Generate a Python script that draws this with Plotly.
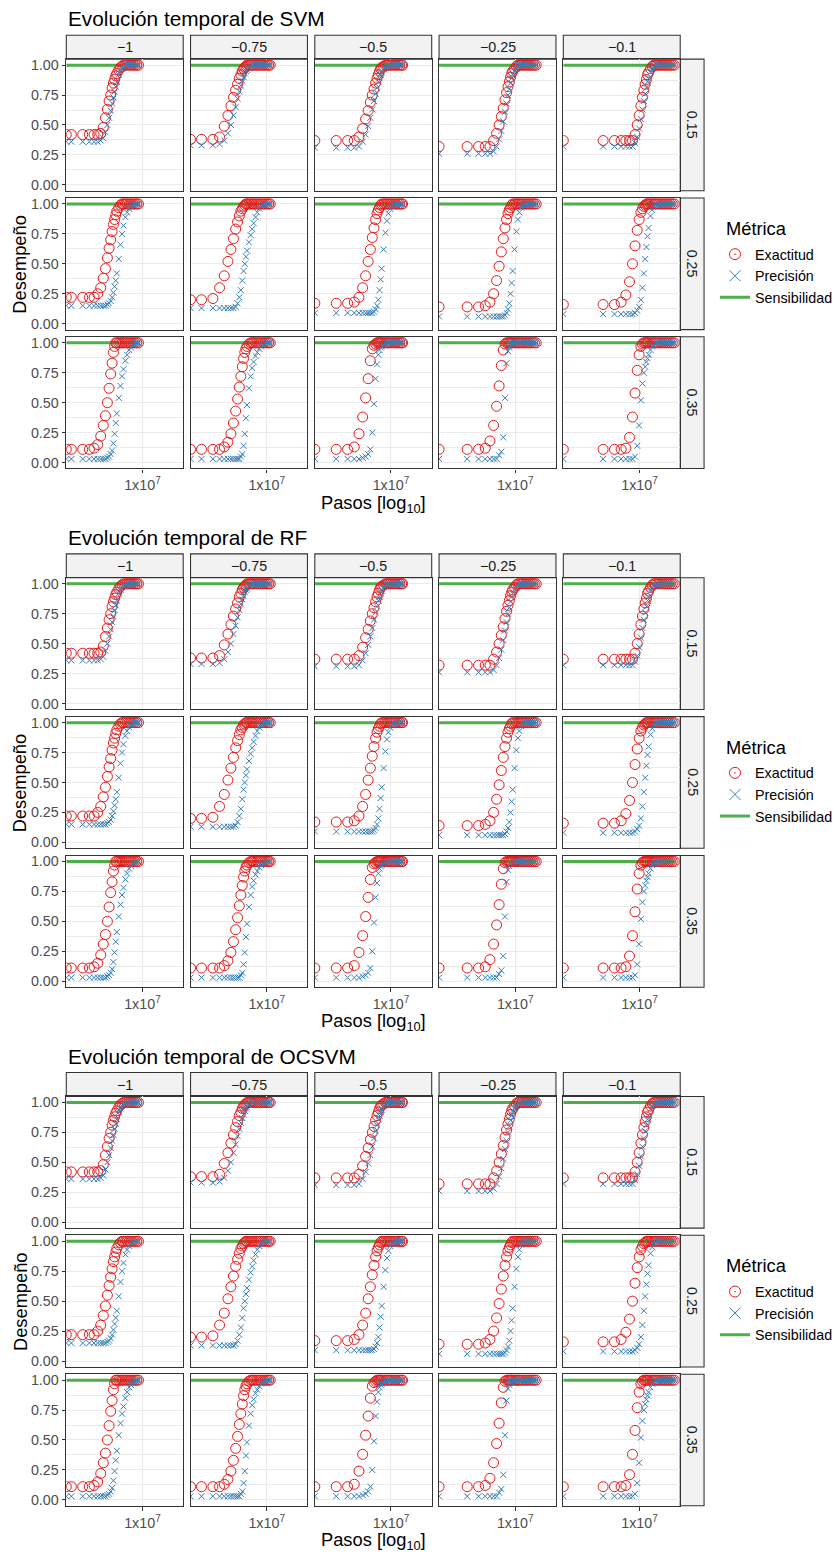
import plotly.graph_objects as go

W, H = 838, 1557
models = ["SVM", "RF", "OCSVM"]
col_labels = ["\u22121", "\u22120.75", "\u22120.5", "\u22120.25", "\u22120.1"]
row_labels = ["0.15", "0.25", "0.35"]
metric_names = ["Exactitud", "Precisión", "Sensibilidad"]

# training steps (thousands) at which each column was evaluated
steps_c1 = [0, 131, 262, 393, 524, 655, 786, 917, 1048, 1179, 1310, 1441, 1572, 1703, 1834, 1965, 2096,
            2358, 2620, 2882, 3144, 3537, 3930, 4454, 4978, 5633, 6288, 7074, 7860]
steps_c2 = [0, 188, 376, 564, 752, 940, 1128, 1316, 1504, 1692, 1880, 2068, 2256, 2444, 2632, 2820, 3008,
            3384, 3760, 4136, 4512, 5076, 5640, 6392, 7144, 8084, 9024, 10152, 11280, 12408]
steps_c3 = [0, 356, 712, 1068, 1424, 1780, 2136, 2492, 2848, 3204, 3560, 3916, 4272, 4628, 4984, 5340, 5696,
            6408, 7120, 7832, 8544, 9612, 10680, 12104, 13528, 15308, 17088, 19224, 20292]
steps_c4 = [0, 536, 1072, 1608, 2144, 2680, 3216, 3752, 4288, 4824, 5360, 5896, 6432, 6968, 7504, 8040, 8576,
            9648, 10720, 11792, 12864, 14472, 16080, 18224, 20368, 23048, 25728, 28944, 32160, 35912]
steps_c5 = [0, 1090, 2180, 3270, 4360, 5450, 6540, 7630, 8720, 9810, 10900, 11990, 13080, 14170, 15260, 16350, 17440,
            19620, 21800, 23980, 26160, 29430, 32700, 37060, 41420, 46870, 52320, 58860, 65400, 74120, 83930]
steps = [steps_c1, steps_c2, steps_c3, steps_c4, steps_c5]

# Exactitud (accuracy) per row, per column
acc_r1 = [
    [0.42,0.42,0.42,0.42,0.42,0.42,0.43,0.48,0.56,0.63,0.70,0.75,0.81,0.85,0.88,0.91,0.93,0.96,0.98,0.99,1,1,1,1,1,1,1,1,1],
    [0.38,0.38,0.38,0.40,0.49,0.58,0.66,0.73,0.79,0.84,0.89,0.92,0.95,0.97,0.98,0.99,1.0,1,1,1,1,1,1,1,1,1,1,1,1,1],
    [0.37,0.37,0.37,0.37,0.40,0.47,0.55,0.62,0.69,0.75,0.80,0.85,0.89,0.92,0.95,0.97,0.98,0.99,1,1,1,1,1,1,1,1,1,1,1],
    [0.32,0.32,0.32,0.32,0.32,0.37,0.43,0.50,0.57,0.64,0.71,0.77,0.82,0.86,0.90,0.93,0.95,0.97,0.99,1,1,1,1,1,1,1,1,1,1,1],
    [0.37,0.37,0.37,0.37,0.37,0.37,0.37,0.42,0.50,0.58,0.66,0.73,0.79,0.84,0.88,0.92,0.94,0.97,0.99,1,1,1,1,1,1,1,1,1,1,1,1],
]
acc_r2 = [
    [0.22,0.22,0.22,0.22,0.22,0.25,0.30,0.38,0.46,0.55,0.63,0.70,0.77,0.83,0.87,0.91,0.94,0.97,0.99,1,1,1,1,1,1,1,1,1,1],
    [0.20,0.20,0.21,0.30,0.40,0.52,0.62,0.71,0.79,0.85,0.90,0.94,0.96,0.98,0.99,1,1,1,1,1,1,1,1,1,1,1,1,1,1,1],
    [0.17,0.17,0.17,0.18,0.22,0.30,0.40,0.52,0.62,0.72,0.80,0.87,0.92,0.95,0.97,0.99,1,1,1,1,1,1,1,1,1,1,1,1,1],
    [0.14,0.14,0.14,0.15,0.18,0.25,0.36,0.48,0.60,0.71,0.80,0.87,0.92,0.95,0.97,0.99,1,1,1,1,1,1,1,1,1,1,1,1,1,1],
    [0.16,0.16,0.16,0.18,0.24,0.35,0.50,0.65,0.78,0.87,0.93,0.96,0.98,0.99,1,1,1,1,1,1,1,1,1,1,1,1,1,1,1,1,1],
]
acc_r3 = [
    [0.11,0.11,0.11,0.11,0.12,0.15,0.22,0.31,0.39,0.50,0.62,0.74,0.83,0.92,0.97,1,1,1,1,1,1,1,1,1,1,1,1,1,1],
    [0.11,0.11,0.11,0.11,0.13,0.17,0.24,0.33,0.43,0.53,0.63,0.72,0.80,0.87,0.92,0.95,0.97,0.99,1,1,1,1,1,1,1,1,1,1,1,1],
    [0.11,0.11,0.11,0.13,0.24,0.38,0.54,0.70,0.85,0.95,0.98,0.99,1,1,1,1,1,1,1,1,1,1,1,1,1,1,1,1,1],
    [0.11,0.11,0.11,0.12,0.18,0.31,0.47,0.64,0.81,0.94,0.99,1,1,1,1,1,1,1,1,1,1,1,1,1,1,1,1,1,1,1],
    [0.11,0.11,0.11,0.11,0.12,0.21,0.38,0.58,0.77,0.90,0.97,0.99,1,1,1,1,1,1,1,1,1,1,1,1,1,1,1,1,1,1,1],
]
# Precisión per row, per column
prec_r1 = [
    [0.36,0.36,0.36,0.36,0.36,0.36,0.37,0.39,0.44,0.50,0.56,0.62,0.68,0.73,0.78,0.82,0.86,0.92,0.95,0.97,0.98,0.99,1,1,1,1,1,1,1],
    [0.33,0.33,0.33,0.34,0.37,0.43,0.50,0.58,0.65,0.72,0.78,0.83,0.87,0.90,0.93,0.95,0.96,0.98,0.99,1,1,1,1,1,1,1,1,1,1,1],
    [0.31,0.31,0.31,0.31,0.32,0.36,0.42,0.49,0.56,0.63,0.70,0.76,0.81,0.86,0.89,0.92,0.94,0.97,0.98,0.99,1,1,1,1,1,1,1,1,1],
    [0.26,0.26,0.26,0.26,0.26,0.28,0.32,0.38,0.45,0.53,0.61,0.68,0.75,0.80,0.85,0.89,0.92,0.95,0.97,0.99,1,1,1,1,1,1,1,1,1,1],
    [0.32,0.32,0.32,0.32,0.32,0.32,0.32,0.35,0.40,0.47,0.55,0.63,0.70,0.76,0.81,0.86,0.89,0.94,0.97,0.98,0.99,1,1,1,1,1,1,1,1,1,1],
]
prec_r2 = [
    [0.15,0.15,0.15,0.15,0.15,0.15,0.15,0.15,0.15,0.16,0.17,0.19,0.22,0.26,0.31,0.36,0.42,0.54,0.66,0.75,0.82,0.89,0.93,0.96,0.98,0.99,1,1,1],
    [0.13,0.13,0.13,0.13,0.13,0.13,0.13,0.13,0.14,0.17,0.22,0.28,0.36,0.44,0.50,0.56,0.61,0.68,0.74,0.79,0.84,0.89,0.93,0.96,0.98,0.99,1,1,1,1],
    [0.09,0.09,0.09,0.09,0.09,0.09,0.09,0.09,0.09,0.09,0.10,0.12,0.15,0.20,0.28,0.37,0.46,0.62,0.76,0.86,0.92,0.96,0.98,0.99,1,1,1,1,1],
    [0.06,0.06,0.06,0.06,0.06,0.06,0.06,0.06,0.06,0.06,0.07,0.09,0.12,0.17,0.25,0.34,0.44,0.62,0.77,0.87,0.93,0.97,0.99,1,1,1,1,1,1,1],
    [0.08,0.08,0.08,0.08,0.08,0.08,0.08,0.09,0.11,0.14,0.20,0.30,0.42,0.54,0.64,0.73,0.80,0.90,0.95,0.98,0.99,1,1,1,1,1,1,1,1,1,1],
]
prec_r3 = [
    [0.03,0.03,0.03,0.03,0.03,0.03,0.03,0.03,0.03,0.04,0.05,0.07,0.10,0.16,0.24,0.33,0.41,0.54,0.64,0.72,0.78,0.85,0.90,0.94,0.96,0.98,0.99,1,1],
    [0.03,0.03,0.03,0.03,0.03,0.03,0.03,0.03,0.03,0.03,0.03,0.05,0.07,0.14,0.24,0.37,0.48,0.62,0.72,0.79,0.84,0.89,0.92,0.95,0.97,0.98,0.99,1,1,1],
    [0.03,0.03,0.03,0.03,0.03,0.04,0.05,0.07,0.11,0.25,0.49,0.70,0.82,0.90,0.94,0.96,0.97,0.98,0.99,1,1,1,1,1,1,1,1,1,1],
    [0.03,0.03,0.03,0.03,0.03,0.03,0.03,0.06,0.09,0.21,0.54,0.83,0.93,0.96,0.98,0.99,1,1,1,1,1,1,1,1,1,1,1,1,1,1],
    [0.03,0.03,0.03,0.03,0.03,0.03,0.03,0.05,0.14,0.31,0.52,0.66,0.75,0.80,0.84,0.87,0.90,0.94,0.97,0.98,0.99,1,1,1,1,1,1,1,1,1,1],
]
acc = [acc_r1, acc_r2, acc_r3]
prec = [prec_r1, prec_r2, prec_r3]
# Sensibilidad: first and last evaluation of every panel
sens_first_last = [1.0, 1.0]

COL_ACC, COL_PREC, COL_SENS = "#E41A1C", "#377EB8", "#4DAF4A"
FONT = "Liberation Sans, Arial, Helvetica, sans-serif"
FS_TICK, FS_AXT, FS_TITLE = 14.3, 18.3, 20.8
XR = [4.984, 8.079]          # log10 range of the x axes
YR = [-0.05, 1.05]
X_LEFT = 10 ** XR[0]          # step 0 (log = -Inf) drawn at the panel edge

PANEL_L, PANEL_W, COL_STEP = 66.7, 117.6, 125.0
PANEL_T, PANEL_H, ROW_STEP = 57.3, 132.0, 139.2
BLOCK = 520.0
STRIP = 24.0


def fx(p):
    return p / W


def fy(p):
    return 1 - p / H


fig = go.Figure()
layout = {}
shapes = []
annots = []
n = 0
for b, model in enumerate(models):
    oy = BLOCK * b
    leg = "legend" if b == 0 else f"legend{b + 1}"
    for r in range(3):
        for c in range(5):
            n += 1
            sfx = "" if n == 1 else str(n)
            x0 = PANEL_L + COL_STEP * c
            x1 = x0 + PANEL_W
            yt = PANEL_T + oy + ROW_STEP * r
            yb = yt + PANEL_H
            xs = [s * 1000 if s > 0 else X_LEFT for s in steps[c]]
            ya = acc[r][c]
            yp = prec[r][c]
            fig.add_trace(go.Scatter(
                x=[xs[0], xs[-1]], y=sens_first_last, mode="lines",
                line=dict(color=COL_SENS, width=3), xaxis="x" + sfx, yaxis="y" + sfx,
                showlegend=False, hoverinfo="skip"))
            m = min(len(xs), len(ya))
            fig.add_trace(go.Scatter(
                x=xs[:m], y=ya[:m], mode="markers",
                marker=dict(symbol="circle-open", size=10, color=COL_ACC, line=dict(width=1, color=COL_ACC)),
                xaxis="x" + sfx, yaxis="y" + sfx, showlegend=False, hoverinfo="skip"))
            m = min(len(xs), len(yp))
            fig.add_trace(go.Scatter(
                x=xs[:m], y=yp[:m], mode="markers",
                marker=dict(symbol="x-thin-open", size=6, color=COL_PREC, line=dict(width=1, color=COL_PREC)),
                xaxis="x" + sfx, yaxis="y" + sfx, showlegend=False, hoverinfo="skip"))

            layout["xaxis" + sfx] = dict(
                domain=[fx(x0), fx(x1)], anchor="y" + sfx, type="log", range=XR,
                tickvals=[1e7], ticktext=["1x10<sup>7</sup>"],
                showticklabels=(r == 2), ticks="outside" if r == 2 else "",
                ticklen=3.7, tickwidth=1.07, tickcolor="#333333",
                tickfont=dict(size=FS_TICK, color="#4D4D4D", family=FONT),
                showgrid=True, gridcolor="#EBEBEB", gridwidth=1.07, zeroline=False,
                showline=True, mirror=True, linecolor="#333333", linewidth=1.07, fixedrange=True)
            layout["yaxis" + sfx] = dict(
                domain=[fy(yb), fy(yt)], anchor="x" + sfx, range=YR,
                tickvals=[0, 0.25, 0.5, 0.75, 1.0], ticktext=["0.00", "0.25", "0.50", "0.75", "1.00"],
                showticklabels=(c == 0), ticks="outside" if c == 0 else "",
                ticklen=3.7, tickwidth=1.07, tickcolor="#333333",
                tickfont=dict(size=FS_TICK, color="#4D4D4D", family=FONT),
                showgrid=True, gridcolor="#EBEBEB", gridwidth=1.07, zeroline=False,
                minor=dict(tickmode="linear", tick0=0.125, dtick=0.25, showgrid=True,
                           gridcolor="#EBEBEB", gridwidth=0.53, ticks=""),
                showline=True, mirror=True, linecolor="#333333", linewidth=1.07, fixedrange=True)

            if r == 0:
                st = PANEL_T + oy - STRIP
                shapes.append(dict(type="rect", xref="paper", yref="paper",
                                   x0=fx(x0), x1=fx(x1), y0=fy(PANEL_T + oy), y1=fy(st),
                                   fillcolor="#F2F2F2", line=dict(color="#333333", width=1.07), layer="below"))
                annots.append(dict(x=fx((x0 + x1) / 2), y=fy(st + STRIP / 2), xref="paper", yref="paper",
                                   text=col_labels[c], showarrow=False, xanchor="center", yanchor="middle",
                                   font=dict(size=FS_TICK, color="#1A1A1A", family=FONT)))
            if c == 4:
                shapes.append(dict(type="rect", xref="paper", yref="paper",
                                   x0=fx(x1), x1=fx(x1 + STRIP), y0=fy(yb), y1=fy(yt),
                                   fillcolor="#F2F2F2", line=dict(color="#333333", width=1.07), layer="below"))
                annots.append(dict(x=fx(x1 + STRIP / 2), y=fy((yt + yb) / 2), xref="paper", yref="paper",
                                   text=row_labels[r], showarrow=False, textangle=90,
                                   xanchor="center", yanchor="middle",
                                   font=dict(size=FS_TICK, color="#1A1A1A", family=FONT)))

    # legend entries for this block
    fig.add_trace(go.Scatter(x=[None], y=[None], mode="markers", name=metric_names[0], legend=leg,
                             marker=dict(symbol="circle-open-dot", size=11, color=COL_ACC,
                                         line=dict(width=1, color=COL_ACC))))
    fig.add_trace(go.Scatter(x=[None], y=[None], mode="markers", name=metric_names[1], legend=leg,
                             marker=dict(symbol="x-thin-open", size=11, color=COL_PREC,
                                         line=dict(width=1, color=COL_PREC))))
    fig.add_trace(go.Scatter(x=[None], y=[None], mode="lines", name=metric_names[2], legend=leg,
                             line=dict(color=COL_SENS, width=3)))
    layout[leg] = dict(x=fx(719.5), xanchor="left", y=fy(237 + oy), yanchor="top",
                       bgcolor="rgba(0,0,0,0)", font=dict(size=FS_TICK, color="#000000", family=FONT),
                       tracegroupgap=0, itemclick=False, itemdoubleclick=False)

    annots.append(dict(x=fx(PANEL_L), y=fy(17 + oy), xref="paper", yref="paper",
                       text=f"Evolución temporal de {model}", showarrow=False,
                       xanchor="left", yanchor="middle", font=dict(size=FS_TITLE, color="#000000", family=FONT)))
    annots.append(dict(x=fx(20), y=fy(262.5 + oy), xref="paper", yref="paper", text="Desempeño",
                       showarrow=False, textangle=-90, xanchor="center", yanchor="middle",
                       font=dict(size=FS_AXT, color="#000000", family=FONT)))
    annots.append(dict(x=fx(375.5), y=fy(503 + oy), xref="paper", yref="paper",
                       text="Pasos [log<sub>10</sub>]", showarrow=False, xanchor="center", yanchor="middle",
                       font=dict(size=FS_AXT, color="#000000", family=FONT)))
    annots.append(dict(x=fx(728.3), y=fy(227 + oy), xref="paper", yref="paper", text="Métrica",
                       showarrow=False, xanchor="left", yanchor="middle",
                       font=dict(size=FS_AXT, color="#000000", family=FONT)))

fig.update_layout(
    width=W, height=H, margin=dict(l=0, r=0, t=0, b=0),
    paper_bgcolor="white", plot_bgcolor="white",
    font=dict(family=FONT), shapes=shapes, annotations=annots, **layout)

fig.write_html("out.html")
